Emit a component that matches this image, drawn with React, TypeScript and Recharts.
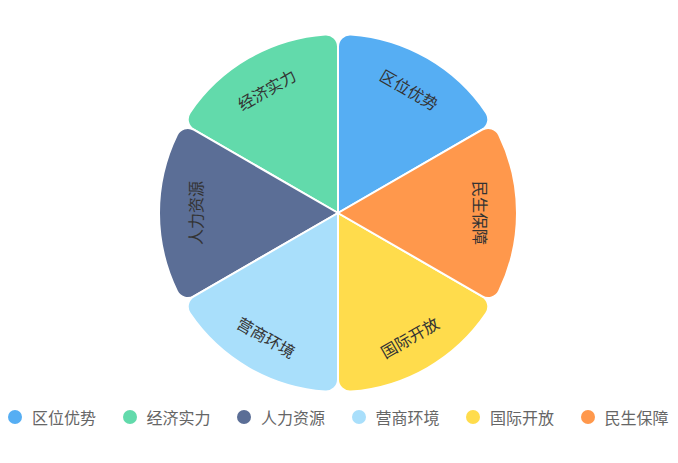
import React from 'react';
import { PieChart, Pie, Cell } from 'recharts';

const categories = ['区位优势', '经济实力', '人力资源', '营商环境', '国际开放', '民生保障'];
const values = [1, 1, 1, 1, 1, 1];
const colors = ['#56AEF3', '#62DAAB', '#5B6E96', '#A9DFFB', '#FFDC4C', '#FF984C'];

const data = categories.map((name, i) => ({ name, value: values[i] }));

const RAD = Math.PI / 180;
const FONT = '"Noto Sans CJK SC", "Noto Sans", sans-serif';

const renderLabel = (props: any) => {
  const { cx, cy, midAngle, name } = props;
  const r = 143;
  const x = cx + r * Math.cos(-midAngle * RAD);
  const y = cy + r * Math.sin(-midAngle * RAD);
  let rot = 90 - midAngle;
  while (rot > 180) rot -= 360;
  while (rot <= -180) rot += 360;
  if (rot > 90) rot -= 180;
  if (rot < -90) rot += 180;
  return (
    <text
      x={x}
      y={y}
      fill="#333"
      fontSize={16}
      fontFamily={FONT}
      textAnchor="middle"
      dominantBaseline="central"
      transform={`rotate(${rot}, ${x}, ${y})`}
    >
      {name}
    </text>
  );
};

export default function App() {
  return (
    <div style={{ position: 'fixed', left: 0, top: 0, width: 678, height: 463, background: '#fff' }}>
      <PieChart width={678} height={400} margin={{ top: 0, right: 0, bottom: 0, left: 0 }}>
        <Pie
          data={data}
          dataKey="value"
          nameKey="name"
          cx={338}
          cy={213}
          outerRadius={179}
          startAngle={30}
          endAngle={390}
          cornerRadius={12}
          stroke="#fff"
          strokeWidth={2}
          label={renderLabel}
          labelLine={false}
          isAnimationActive={false}
        >
          {data.map((d, i) => (
            <Cell key={d.name} fill={colors[i]} />
          ))}
        </Pie>
      </PieChart>
      <div
        style={{
          position: 'absolute',
          left: 8,
          top: 405,
          display: 'flex',
          alignItems: 'center',
          fontFamily: FONT,
          fontSize: 16,
          color: '#666',
          lineHeight: '24px',
          whiteSpace: 'nowrap',
        }}
      >
        {categories.map((c, i) => (
          <div key={c} style={{ display: 'flex', alignItems: 'center', marginRight: i < categories.length - 1 ? 26.5 : 0 }}>
            <span
              style={{
                display: 'inline-block',
                width: 14,
                height: 14,
                borderRadius: 7,
                background: colors[i],
                marginRight: 10,
              }}
            />
            <span>{c}</span>
          </div>
        ))}
      </div>
    </div>
  );
}
